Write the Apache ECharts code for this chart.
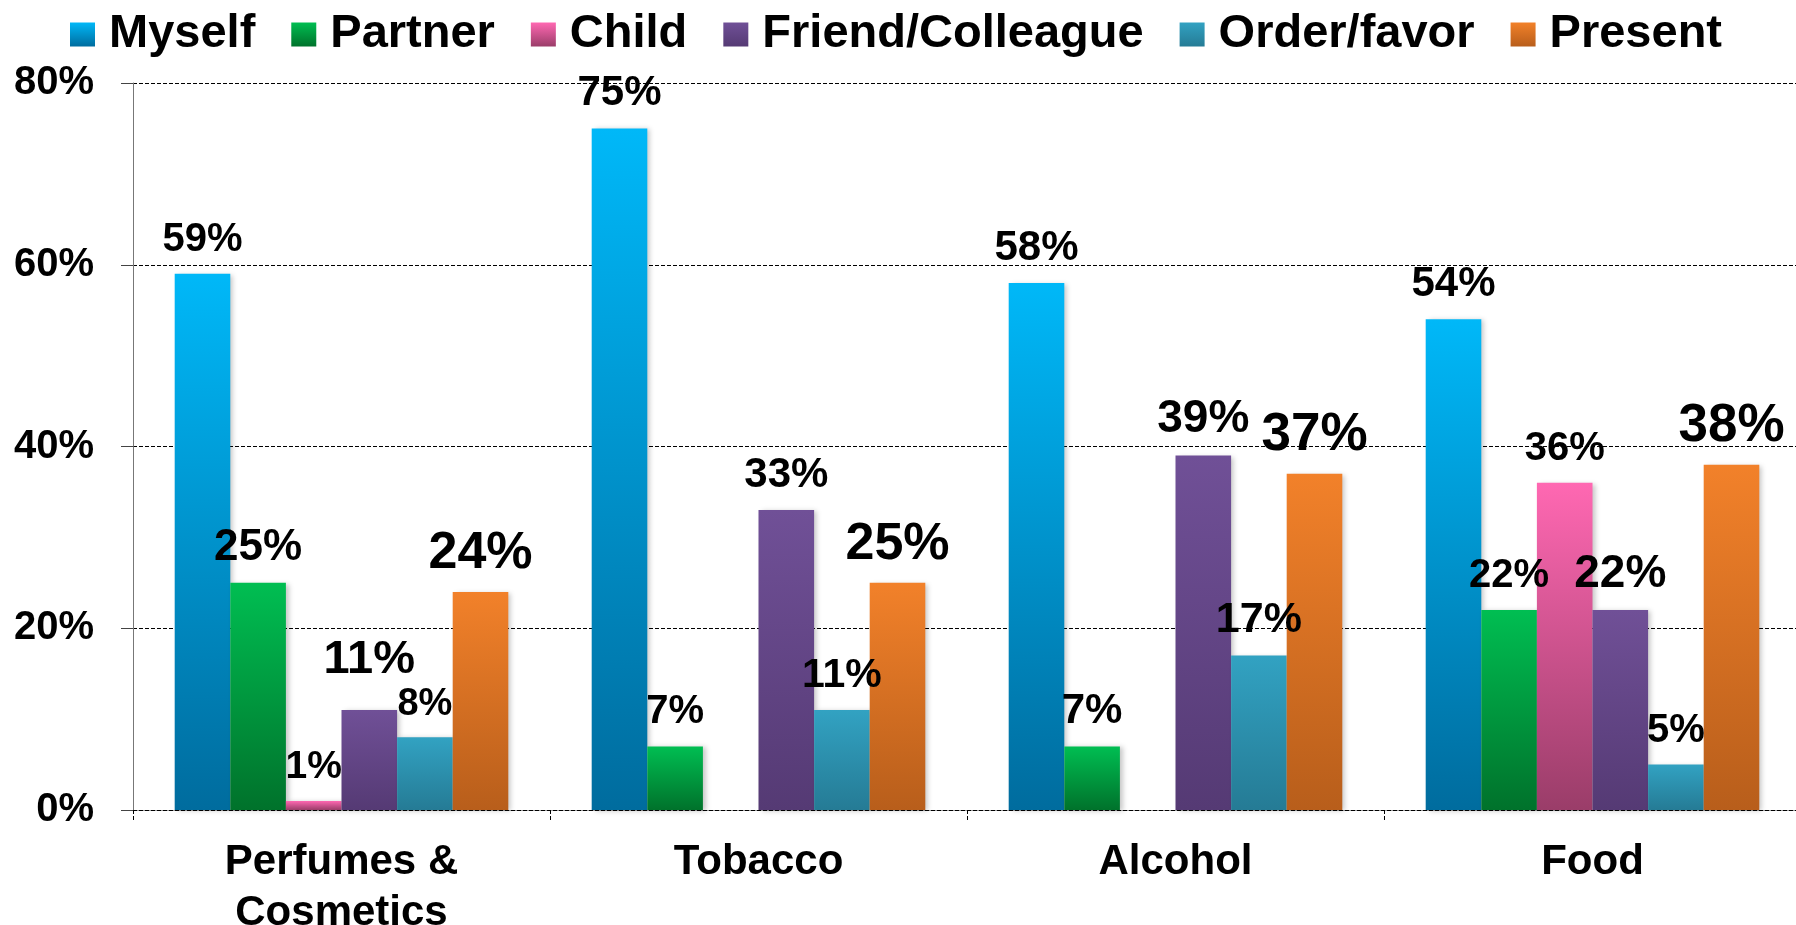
<!DOCTYPE html>
<html>
<head>
<meta charset="utf-8">
<title>Purchase recipients by product category</title>
<script src="https://cdn.jsdelivr.net/npm/echarts@6/dist/echarts.min.js"></script>
<style>
  html, body { margin: 0; padding: 0; background: #ffffff; }
  #chart { width: 1796px; height: 925px; }
</style>
</head>
<body>
<div id="chart"></div>
<script>
// Product categories along the x axis
const categories = ['Perfumes &\nCosmetics', 'Tobacco', 'Alcohol', 'Food'];

// Share of purchases (%) by recipient; null = no purchases for that recipient
const myself   = [59, 75, 58, 54];
const partner  = [25, 7, 7, 22];
const child    = [1, null, null, 36];
const friend   = [11, 33, 39, 22];
const order    = [8, 11, 17, 5];
const present  = [24, 25, 37, 38];

// Value-axis ticks
const yTicks = [0, 20, 40, 60, 80];

const FONT = '"Liberation Sans", Arial, Helvetica, sans-serif';

// Per-series look: gradient colours and value-label font sizes per category
const seriesDefs = [
  { name: 'Myself',           values: myself,  top: '#00B8F8', bottom: '#006C9E', sizes: [40, 42, 42, 42] },
  { name: 'Partner',          values: partner, top: '#00BE52', bottom: '#00722B', sizes: [44, 40, 42, 40] },
  { name: 'Child',            values: child,   top: '#FF68B2', bottom: '#9A3D69', sizes: [39, 40, 40, 40] },
  { name: 'Friend/Colleague', values: friend,  top: '#705097', bottom: '#553A74', sizes: [47, 42, 46, 46] },
  { name: 'Order/favor',      values: order,   top: '#32A2C2', bottom: '#257B95', sizes: [38, 41, 43, 40] },
  { name: 'Present',          values: present, top: '#F2812A', bottom: '#B85E1B', sizes: [52, 52, 53, 53] }
];

// Gap between a label's baseline and its bar top (px); one label sits higher
const baseGap = 20;
const gapOverride = { 'Friend/Colleague': { 0: 33 } };

function grad(top, bottom) {
  return new echarts.graphic.LinearGradient(0, 0, 0, 1, [
    { offset: 0, color: top },
    { offset: 1, color: bottom }
  ]);
}

const series = seriesDefs.map(def => ({
  name: def.name,
  type: 'bar',
  barGap: '0%',
  barCategoryGap: '20%',
  itemStyle: {
    color: grad(def.top, def.bottom),
    shadowColor: 'rgba(0,0,0,0.22)',
    shadowBlur: 5,
    shadowOffsetX: 3,
    shadowOffsetY: 1
  },
  label: {
    show: true,
    position: 'top',
    color: '#000',
    fontFamily: FONT,
    fontWeight: 'bold',
    formatter: p => p.value + '%'
  },
  data: def.values.map((v, i) => {
    if (v == null) return null;
    const fs = def.sizes[i];
    const gap = (gapOverride[def.name] && gapOverride[def.name][i]) || baseGap;
    return {
      value: v,
      label: { fontSize: fs, lineHeight: fs, distance: Math.round(gap - 0.15 * fs) }
    };
  })
}));

const chart = echarts.init(document.getElementById('chart'), null, { renderer: 'canvas' });

chart.setOption({
  backgroundColor: '#ffffff',
  animation: false,
  legend: {
    data: seriesDefs.map(d => d.name),
    left: 65,
    top: 6,
    icon: 'rect',
    itemWidth: 25,
    itemHeight: 24,
    itemGap: 36,
    textStyle: {
      fontFamily: FONT,
      fontWeight: 'bold',
      fontSize: 47,
      lineHeight: 46,
      color: '#000',
      padding: [0, 0, 0, 9]
    }
  },
  grid: {
    left: 133,
    top: 83,
    width: 1668,
    bottom: 115,
    containLabel: false,
    outerBoundsMode: 'none'
  },
  xAxis: {
    type: 'category',
    data: categories,
    boundaryGap: true,
    axisLine: { show: true, lineStyle: { color: '#000', width: 1, type: [4, 2] } },
    axisTick: { show: true, length: 12, alignWithLabel: false, lineStyle: { color: '#000', width: 1, type: [4, 2] } },
    axisLabel: {
      margin: 27,
      color: '#000',
      fontFamily: FONT,
      fontWeight: 'bold',
      fontSize: 42,
      lineHeight: 51
    },
    splitLine: { show: false }
  },
  yAxis: {
    type: 'value',
    min: yTicks[0],
    max: yTicks[yTicks.length - 1],
    interval: yTicks[1] - yTicks[0],
    axisLine: { show: true, lineStyle: { color: '#777', width: 1 } },
    axisTick: { show: true, length: 12, lineStyle: { color: '#444', width: 1 } },
    axisLabel: {
      margin: 39,
      color: '#000',
      fontFamily: FONT,
      fontWeight: 'bold',
      fontSize: 40,
      formatter: '{value}%'
    },
    splitLine: { show: true, lineStyle: { color: '#000', width: 1, type: [4, 2] } }
  },
  series: series
});
</script>
</body>
</html>
